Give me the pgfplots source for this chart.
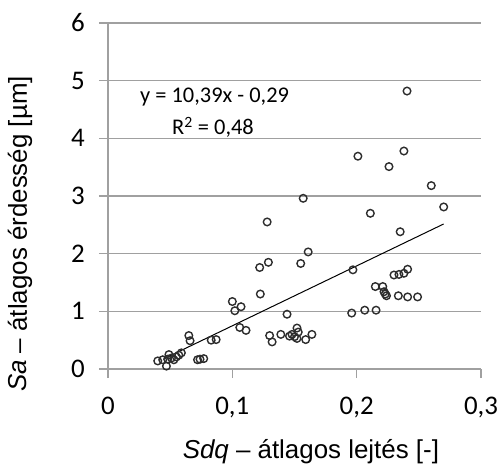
\documentclass[border=0pt]{standalone}
\usepackage{fontspec}
\setmainfont{Liberation Sans}
\newfontfamily\calibri{Carlito}
\usepackage{pgfplots}
\pgfplotsset{compat=1.18}

\definecolor{gridgray}{RGB}{160,160,160}
\definecolor{markgray}{RGB}{45,45,45}

\begin{document}
\begin{tikzpicture}
\path[use as bounding box] (0,0) rectangle (499bp,471bp);
\begin{axis}[
    at={(108bp,102bp)}, anchor=south west,
    scale only axis, width=373bp, height=346bp,
    xmin=0, xmax=0.3, ymin=0, ymax=6,
    axis x line=bottom, axis y line=left,
    axis line style={gridgray, line width=1.4bp, -},
    xtick={0,0.1,0.2,0.3}, xticklabels={0,{0,1},{0,2},{0,3}},
    ytick={0,1,2,3,4,5,6}, yticklabels={0,1,2,3,4,5,6},
    tick align=outside, major tick length=9bp,
    tick style={gridgray, line width=1.4bp},
    ymajorgrids, xmajorgrids=false,
    grid style={gridgray, line width=1.4bp},
    ticklabel style={font=\calibri\fontsize{27}{30}\selectfont, inner sep=0pt},
    yticklabel style={anchor=east, xshift=-14bp},
    xticklabel style={anchor=north, yshift=-19bp},
    xlabel={\fontsize{26}{30}\selectfont\textit{Sdq} – átlagos lejtés [-]},
    ylabel={\fontsize{26}{30}\selectfont\textit{Sa} – átlagos érdesség [µm]},
    xlabel style={at={(axis description cs:0.544,-0.24)}, anchor=center},
    ylabel style={at={(axis description cs:-0.236,0.39)}, anchor=center, rotate=0},
    clip=false,
]

% measurements
\addplot[only marks, mark=o, mark size=3.8bp, mark options={markgray, line width=1.4bp}] coordinates {
(0.2405,4.82) (0.201,3.69) (0.238,3.78) (0.226,3.51) (0.260,3.18)
(0.211,2.70) (0.270,2.81) (0.235,2.38) (0.197,1.72)
(0.230,1.63) (0.234,1.64) (0.238,1.66) (0.241,1.73)
(0.215,1.43) (0.221,1.43) (0.222,1.34) (0.223,1.30) (0.224,1.27)
(0.2335,1.27) (0.241,1.25) (0.249,1.25)
(0.2065,1.02) (0.2156,1.02) (0.196,0.97)
(0.157,2.96) (0.128,2.55) (0.161,2.03) (0.129,1.85) (0.122,1.76) (0.155,1.83)
(0.1225,1.30) (0.100,1.17) (0.102,1.01) (0.107,1.08) (0.144,0.95)
(0.106,0.72) (0.111,0.67) (0.130,0.58) (0.132,0.47) (0.139,0.60)
(0.146,0.57) (0.148,0.60) (0.150,0.56) (0.152,0.71) (0.152,0.53) (0.153,0.64)
(0.159,0.51) (0.164,0.60)
(0.083,0.50) (0.087,0.51) (0.065,0.58) (0.066,0.49)
(0.072,0.16) (0.074,0.17) (0.077,0.18)
(0.040,0.14) (0.047,0.05) (0.044,0.16) (0.048,0.17) (0.049,0.25)
(0.051,0.19) (0.053,0.16) (0.055,0.21) (0.057,0.24) (0.059,0.28)
};

% linear trend line
\addplot[black, line width=1bp] coordinates {(0.045,0.178) (0.27,2.515)};

\node[anchor=west, inner sep=0pt, font=\calibri\fontsize{22.5}{26}\selectfont] at (axis cs:0.0257,4.71) {y = 10,39x - 0,29};
\node[anchor=west, inner sep=0pt, font=\calibri\fontsize{22.5}{26}\selectfont] at (axis cs:0.0515,4.19) {R\textsuperscript{2} = 0,48};

\end{axis}
\end{tikzpicture}
\end{document}
